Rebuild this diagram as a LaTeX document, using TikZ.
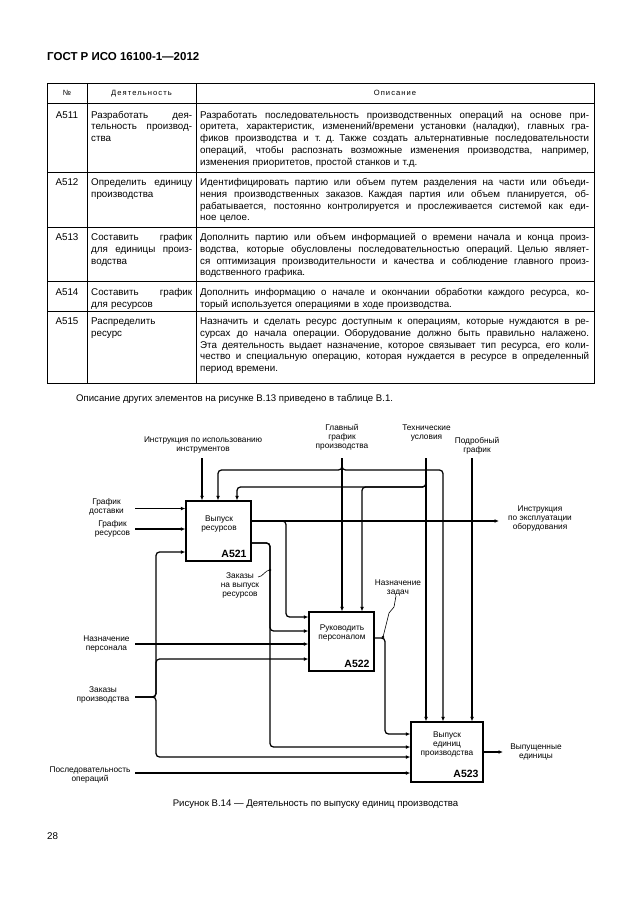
\documentclass[tikz,border=0pt]{standalone}
\usepackage{fontspec}
\setmainfont{Liberation Sans}
\usetikzlibrary{arrows.meta}
\newcommand\ja[1]{\makebox[101pt][s]{\spaceskip=0.278em plus 1fil minus 0.05em\relax #1}}
\newcommand\jd[1]{\makebox[389pt][s]{\spaceskip=0.278em plus 1fil minus 0.05em\relax #1}}

\begin{document}
\begin{tikzpicture}[x=1pt, y=-1pt,
  tbl/.style={line width=0.8pt},
  cell/.style={anchor=base west, inner sep=0pt, align=left, font=\fontsize{9.8}{11.8}\selectfont},
  numcell/.style={anchor=base, inner sep=0pt, font=\fontsize{9.8}{11.8}\selectfont},
  head/.style={anchor=base, inner sep=0pt, font=\fontsize{7.6}{9}\selectfont\addfontfeature{LetterSpace=14}},
  box/.style={draw, line width=1.2pt, inner sep=0pt},
  flow/.style={line width=1.25pt, rounded corners=3.5pt},
  arr/.style={flow, -{Latex[length=4.5pt, width=3.8pt]}},
  lbl/.style={inner sep=0pt, align=center, font=\fontsize{8.3}{9}\selectfont},
  num/.style={inner sep=0pt, font=\bfseries\fontsize{10.5}{11}\selectfont},
  squig/.style={line width=0.6pt}]
\useasboundingbox (0,0) rectangle (630,913);

% page head
\node[anchor=base west, inner sep=0pt, font=\bfseries\fontsize{11.5}{12}\selectfont] (hdr) at (47,60) {ГОСТ Р ИСО 16100-1—2012};

% table
\draw[tbl] (47,83) rectangle (594,383);
\foreach \y in {103,172,227,281,311} \draw[tbl] (47,\y) -- (594,\y);
\foreach \x in {87,196} \draw[tbl] (\x,83) -- (\x,383);
\node[head] (h1) at (67,95) {№};
\node[head] (h2) at (141.5,95) {Деятельность};
\node[head] (h3) at (395,95) {Описание};

\node[numcell] (n511) at (67,118) {A511};
\node[cell, text width=101pt] (d511) at (91,118) {\ja{Разработать дея-}\\\ja{тельность производ-}\\ства};
\node[cell, text width=389pt] (o511) at (200,118) {\jd{Разработать последовательность производственных операций на основе при-}\\\jd{оритета, характеристик, изменений/времени установки (наладки), главных гра-}\\\jd{фиков производства и т. д. Также создать альтернативные последовательности}\\\jd{операций, чтобы распознать возможные изменения производства, например,}\\изменения приоритетов, простой станков и т.д.};

\node[numcell] (n512) at (67,185.5) {A512};
\node[cell, text width=101pt] (d512) at (91,185.5) {\ja{Определить единицу}\\производства};
\node[cell, text width=389pt] (o512) at (200,185.5) {\jd{Идентифицировать партию или объем путем разделения на части или объеди-}\\\jd{нения производственных заказов. Каждая партия или объем планируется, об-}\\\jd{рабатывается, постоянно контролируется и прослеживается системой как еди-}\\ное целое.};

\node[numcell] (n513) at (67,240.5) {A513};
\node[cell, text width=101pt] (d513) at (91,240.5) {\ja{Составить график}\\\ja{для единицы произ-}\\водства};
\node[cell, text width=389pt] (o513) at (200,240.5) {\jd{Дополнить партию или объем информацией о времени начала и конца произ-}\\\jd{водства, которые обусловлены последовательностью операций. Целью являет-}\\\jd{ся оптимизация производительности и качества и соблюдение главного произ-}\\водственного графика.};

\node[numcell] (n514) at (67,295.5) {A514};
\node[cell, text width=101pt] (d514) at (91,295.5) {\ja{Составить график}\\для ресурсов};
\node[cell, text width=389pt] (o514) at (200,295.5) {\jd{Дополнить информацию о начале и окончании обработки каждого ресурса, ко-}\\торый используется операциями в ходе производства.};

\node[numcell] (n515) at (67,324.5) {A515};
\node[cell, text width=101pt] (d515) at (91,324.5) {Распределить\\ресурс};
\node[cell, text width=389pt] (o515) at (200,324.5) {\jd{Назначить и сделать ресурс доступным к операциям, которые нуждаются в ре-}\\\jd{сурсах до начала операции. Оборудование должно быть правильно налажено.}\\\jd{Эта деятельность выдает назначение, которое связывает тип ресурса, его коли-}\\\jd{чество и специальную операцию, которая нуждается в ресурсе в определенный}\\период времени.};

\node[anchor=base west, inner sep=0pt, font=\fontsize{9.6}{12}\selectfont] (par) at (76,401.5) {Описание других элементов на рисунке В.13 приведено в таблице В.1.};

% diagram boxes
\node[box, minimum width=65pt, minimum height=60pt] (a521) at (218.5,531) {};
\node[box, minimum width=65pt, minimum height=59pt] (a522) at (341.5,641.5) {};
\node[box, minimum width=72pt, minimum height=60pt] (a523) at (447,752) {};
\node[lbl] (t521) at (219,523.5) {Выпуск\\ресурсов};
\node[num] (m521) at (234,554) {A521};
\node[lbl] (t522) at (342,632.5) {Руководить\\персоналом};
\node[num] (m522) at (357,664) {A522};
\node[lbl] (t523) at (447,744) {Выпуск\\единиц\\производства};
\node[num] (m523) at (466,774) {A523};

% labels
\node[lbl] (l-iui) at (203,444.5) {Инструкция по использованию\\инструментов};
\node[lbl] (l-ggp) at (342,437) {Главный\\график\\производства};
\node[lbl] (l-tu) at (426.5,433) {Технические\\условия};
\node[lbl] (l-pg) at (477,445.5) {Подробный\\график};
\node[lbl] (l-gd) at (106.5,506.5) {График\\доставки};
\node[lbl] (l-gr) at (112.5,528.5) {График\\ресурсов};
\node[lbl] (l-io) at (540,518.5) {Инструкция\\по эксплуатации\\оборудования};
\node[lbl] (l-zr) at (240,585) {Заказы\\на выпуск\\ресурсов};
\node[lbl] (l-nz) at (398,588) {Назначение\\задач};
\node[lbl] (l-np) at (106.5,643.5) {Назначение\\персонала};
\node[lbl] (l-zp) at (103,695) {Заказы\\производства};
\node[lbl] (l-po) at (90,775) {Последовательность\\операций};
\node[lbl] (l-vu) at (536,751.5) {Выпущенные\\единицы};

% controls
\coordinate (iui) at (202,458);
\coordinate (ggp) at (342,458);
\coordinate (ggpl) at (218,470);
\coordinate (ggpr) at (443,470);
\coordinate (tu) at (426,458);
\coordinate (tul) at (237,487);
\coordinate (tum) at (362,487);
\coordinate (pg) at (472,458);
\draw[arr] (iui) -- (iui |- a521.north);
\draw[arr] (ggp) -- (ggp |- a522.north);
\draw[arr] (ggp) |- (ggpl) -- (ggpl |- a521.north);
\draw[arr] (ggp) |- (ggpr) -- (ggpr |- a523.north);
\draw[arr] (tu) -- (tu |- a523.north);
\draw[arr] (tu) |- (tul) -- (tul |- a521.north);
\draw[arr] (tu) |- (tum) -- (tum |- a522.north);
\draw[arr] (pg) -- (pg |- a523.north);

% inputs
\coordinate (gd) at (135,508.5);
\coordinate (gr) at (135,529);
\coordinate (np) at (135,644);
\coordinate (po) at (135,773);
\coordinate (zp) at (135,697);
\coordinate (zpj) at (156,697);
\coordinate (zp1) at (156,552);
\coordinate (zp2) at (156,659);
\coordinate (zp3) at (156,757);
\draw[arr] (gd) -- (gd -| a521.west);
\draw[arr] (gr) -- (gr -| a521.west);
\draw[arr] (np) -- (np -| a522.west);
\draw[arr] (po) -- (po -| a523.west);
\draw[arr] (zp) -- (zpj) -- (zp1) -- (zp1 -| a521.west);
\draw[arr] (zp) -- (zpj) -- (zp2) -- (zp2 -| a522.west);
\draw[arr] (zp) -- (zpj) -- (zp3) -- (zp3 -| a523.west);

% outputs
\coordinate (io) at (499,521);
\coordinate (io1) at (286,521);
\coordinate (io2) at (286,617);
\coordinate (zr1) at (270,543);
\coordinate (zr2) at (270,631);
\coordinate (zr3) at (270,747);
\coordinate (nz1) at (385,638);
\coordinate (nz2) at (385,734);
\coordinate (vu) at (503,752);
\draw[arr] (a521.east |- io) -- (io);
\draw[arr] (a521.east |- io) -- (io1) -- (io2) -- (io2 -| a522.west);
\draw[arr] (a521.east |- zr1) -- (zr1) -- (zr2) -- (zr2 -| a522.west);
\draw[arr] (a521.east |- zr1) -- (zr1) -- (zr3) -- (zr3 -| a523.west);
\draw[arr] (a522.east |- nz1) -- (nz1) -- (nz2) -- (nz2 -| a523.west);
\draw[arr] (a523.east |- vu) -- (vu);

% squiggles
\coordinate (zrs) at (270,570);
\coordinate (nzs) at (383,637);
\draw[squig] (258,577) .. controls (263,577) and (265,570) .. (zrs);
\fill (zrs) circle (1.4pt);
\draw[squig] (396,596) -- (394,607) -- (389,613) -- (nzs);
\fill (nzs) circle (1.4pt);

\node[anchor=base, inner sep=0pt, font=\fontsize{9.6}{11}\selectfont] (cap) at (315.5,806) {Рисунок В.14 — Деятельность по выпуску единиц производства};
\node[anchor=base west, inner sep=0pt, font=\fontsize{9.8}{12}\selectfont] (pno) at (47,839) {28};
\end{tikzpicture}
\end{document}
